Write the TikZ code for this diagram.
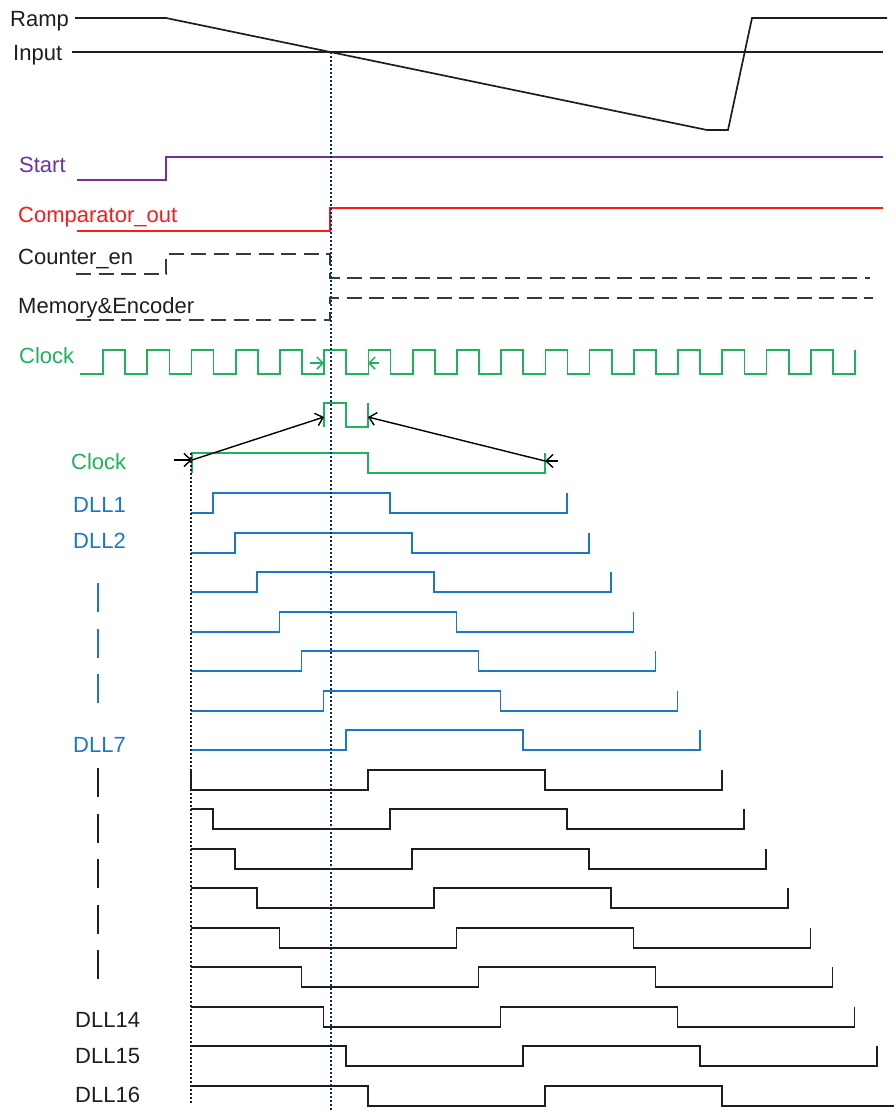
\documentclass[tikz,border=0pt]{standalone}
\usepackage{fontspec}
\setmainfont{Liberation Sans}
\usetikzlibrary{arrows.meta}
\definecolor{sigpurple}{HTML}{7030A0}
\definecolor{sigred}{HTML}{FF1A1A}
\definecolor{siggreen}{HTML}{1DB35A}
\definecolor{sigblue}{HTML}{1A78C8}
\definecolor{signavy}{HTML}{0A2A6E}
\definecolor{sigdark}{HTML}{3A3A3A}
\definecolor{txtdark}{HTML}{1E1E1E}

\begin{document}
\begin{tikzpicture}[x=1pt,y=-1pt,
  lbl/.style={anchor=base west, inner sep=0pt, text=txtdark, font=\fontsize{22}{26}\selectfont},
  wave/.style={line width=1.7pt, line join=miter},
  dashwave/.style={wave, draw=sigdark, dash pattern=on 15pt off 7.5pt},
  marker/.style={line width=1.3pt, dash pattern=on 2pt off 2pt},
  barb/.style={-{Straight Barb[length=7pt,width=13pt,line width=1.4pt]}, line width=1.4pt},
  gbarb/.style={-{Straight Barb[length=6pt,width=12pt,line width=1.5pt]}, line width=1.5pt, draw=siggreen},
  ellip/.style={line width=1.7pt, dash pattern=on 29pt off 16.5pt}
]
\useasboundingbox (0,0) rectangle (894,1111);

% ---- signal names ----
\node[lbl] (ramp) at (10,26) {Ramp};
\node[lbl] (input) at (13,60) {Input};
\node[lbl, text=sigpurple] (start) at (19,172) {Start};
\node[lbl, text=sigred] (cmp) at (18,222) {Comparator\_out};
\node[lbl] (cen) at (18,264) {Counter\_en};
\node[lbl] (mem) at (18,313) {Memory\&Encoder};
\node[lbl, text=siggreen] (clk) at (19,363) {Clock};
\node[lbl, text=siggreen] (clkz) at (71,469) {Clock};
\node[lbl, text=sigblue] (dll1) at (73,512) {DLL1};
\node[lbl, text=sigblue] (dll2) at (73,548) {DLL2};
\node[lbl, text=sigblue] (dll7) at (73,752) {DLL7};
\node[lbl] (dll14) at (75,1027) {DLL14};
\node[lbl] (dll15) at (75,1063) {DLL15};
\node[lbl] (dll16) at (75,1102) {DLL16};

% elided phases
\draw[ellip, sigblue] (98,583) -- (98,703);
\draw[ellip, txtdark] (98,768) -- (98,980);

% ---- ramp and input ----
\draw[wave, txtdark] (75,18) -- (166,18) -- (707,130) -- (728,130) -- (752,18) -- (887,18);
\draw[wave, txtdark] (72,52) -- (883,52);

% ---- control signals ----
\draw[wave, sigpurple] (77,180) -- (166,180) -- (166,157) -- (883,157);
\draw[wave, sigred] (77,231) -- (330,231) -- (330,208) -- (883,208);
\draw[dashwave] (76,274) -- (166,274) -- (166,254) -- (330,254) -- (330,278) -- (870,278);
\draw[dashwave] (76,320) -- (330,320) -- (330,298) -- (873,298);

% ---- system clock ----
\draw[wave, siggreen] (80,374)
  foreach \k in {0,...,16} {
    -- ({103+44.235*\k},374) -- ({103+44.235*\k},350)
    -- ({125.12+44.235*\k},350) -- ({125.12+44.235*\k},374)
  } -- (855,374) -- (855,350);
\coordinate (ga0) at (310,363);
\coordinate (ga1) at (324,363);
\coordinate (gb0) at (379,363);
\coordinate (gb1) at (368,363);
\draw[gbarb] (ga0) -- (ga1);
\draw[gbarb] (gb0) -- (gb1);

% ---- one clock period, magnified ----
\draw[wave, siggreen] (324,427) -- (324,403) -- (346,403) -- (346,427) -- (368,427) -- (368,403);
\draw[wave, siggreen] (192,473) -- (192,453) -- (368,453) -- (368,473) -- (545,473) -- (545,453);
\coordinate (pl) at (324,417);
\coordinate (pr) at (368,417);
\coordinate (a0) at (174,460);
\coordinate (a1) at (192,460);
\coordinate (b0) at (558,461);
\coordinate (b1) at (545,461);
\draw[barb] (a0) -- (a1);
\draw[barb] (a1) -- (pl);
\draw[barb] (b0) -- (b1);
\draw[barb] (b1) -- (pr);

% ---- DLL phases 1..7 ----
\foreach \r in {1,...,7} {
  \pgfmathsetmacro\d{191+22.1*\r}
  \pgfmathsetmacro\y{round(513+39.5*(\r-1))}
  \draw[wave, sigblue] (191,\y) -- (\d,\y) -- (\d,\y-20) -- (\d+177,\y-20)
    -- (\d+177,\y) -- (\d+354,\y) -- (\d+354,\y-20);
}
% ---- DLL phase 8 ----
\draw[wave, txtdark] (191,770) -- (191,790) -- (367.8,790) -- (367.8,770)
  -- (544.8,770) -- (544.8,790) -- (721.8,790) -- (721.8,770);
% ---- DLL phases 9..16 ----
\foreach \k in {1,...,8} {
  \pgfmathsetmacro\d{191+22.1*\k}
  \pgfmathsetmacro\y{round(513+39.5*(\k+7))}
  \draw[wave, txtdark] (191,\y-20) -- (\d,\y-20) -- (\d,\y) -- (\d+177,\y)
    -- (\d+177,\y-20) -- (\d+354,\y-20) -- (\d+354,\y) -- (\d+531,\y) -- (\d+531,\y-20);
}

% ---- reference instants ----
\draw[marker, signavy] (331,52) -- (331,1111);
\draw[marker, txtdark] (191,453) -- (191,1103);
\end{tikzpicture}
\end{document}
